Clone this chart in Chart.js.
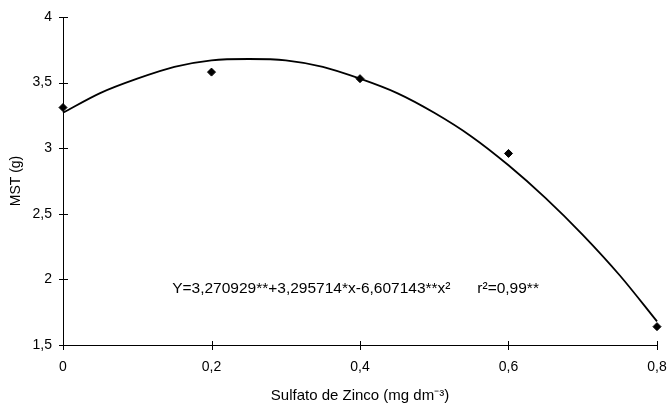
<!DOCTYPE html>
<html>
<head>
<meta charset="utf-8">
<script src="https://cdn.jsdelivr.net/npm/chart.js@4.4.0/dist/chart.umd.min.js"></script>
<style>
html,body{margin:0;padding:0;background:#fff;}
#wrap{width:668px;height:406px;}
</style>
</head>
<body>
<div id="wrap"><canvas id="c" width="668" height="406"></canvas></div>
<script>
// Observed data points
const doses = [0, 0.2, 0.4, 0.6, 0.8];
const mst = [3.31, 3.58, 3.53, 2.96, 1.64];
// Fitted trend curve
const curveX = [0, 0.05, 0.1, 0.15, 0.2, 0.25, 0.3, 0.35, 0.4, 0.45, 0.5, 0.55, 0.6, 0.65, 0.7, 0.75, 0.8];
const curveY = [3.27, 3.42, 3.53, 3.62, 3.67, 3.68, 3.67, 3.62, 3.53, 3.42, 3.27, 3.09, 2.87, 2.62, 2.34, 2.03, 1.68];
const xTicks = [0, 0.2, 0.4, 0.6, 0.8];
const yTicks = [1.5, 2, 2.5, 3, 3.5, 4];
const equationText = "Y=3,270929**+3,295714*x-6,607143**x²";
const r2Text = "r²=0,99**";

const FONT = "'Liberation Sans', Arial, sans-serif";
const fmt = v => String(Math.round(v * 10) / 10).replace('.', ',');

const crossTicks = {
  id: 'crossTicks',
  afterDraw(chart) {
    const ctx = chart.ctx;
    const xs = chart.scales.x, ys = chart.scales.y;
    ctx.save();
    ctx.strokeStyle = '#000';
    ctx.lineWidth = 1;
    ctx.beginPath();
    yTicks.forEach(v => {
      const py = Math.round(ys.getPixelForValue(v)) + 0.5;
      ctx.moveTo(xs.left - 4, py); ctx.lineTo(xs.left + 5, py);
    });
    xTicks.forEach(v => {
      const px = Math.round(xs.getPixelForValue(v)) + 0.5;
      ctx.moveTo(px, ys.bottom - 4); ctx.lineTo(px, ys.bottom + 5);
    });
    ctx.stroke();
    ctx.fillStyle = '#000';
    ctx.font = '15.5px ' + FONT;
    ctx.textBaseline = 'middle';
    ctx.textAlign = 'left';
    ctx.fillText(equationText, xs.getPixelForValue(0.147), ys.getPixelForValue(1.93));
    ctx.fillText(r2Text, xs.getPixelForValue(0.558), ys.getPixelForValue(1.93));
    ctx.restore();
  }
};

new Chart(document.getElementById('c'), {
  type: 'scatter',
  data: {
    datasets: [
      {
        label: 'Curve',
        type: 'line',
        data: curveX.map((x, i) => ({x: x, y: curveY[i]})),
        borderColor: '#000',
        borderWidth: 1.8,
        pointRadius: 0,
        fill: false,
        clip: false,
        tension: 0.4,
        cubicInterpolationMode: 'monotone'
      },
      {
        label: 'MST',
        data: doses.map((x, i) => ({x: x, y: mst[i]})),
        backgroundColor: '#000',
        borderColor: '#000',
        pointStyle: 'rectRot',
        pointRadius: 4,
        pointHoverRadius: 4,
        clip: false
      }
    ]
  },
  options: {
    responsive: false,
    animation: false,
    layout: {padding: {top: 17, right: 11, left: 0, bottom: 0}},
    plugins: {legend: {display: false}, tooltip: {enabled: false}},
    scales: {
      x: {
        type: 'linear', min: 0, max: 0.8,
        afterBuildTicks: s => { s.ticks = xTicks.map(v => ({value: v})); },
        afterFit: s => { s.height = 61; s.paddingRight = 0; s.paddingLeft = 0; },
        grid: {display: false, drawTicks: false},
        border: {display: true, color: '#000', width: 1},
        ticks: {color: '#000', font: {family: FONT, size: 14}, padding: 14, callback: v => fmt(v), maxRotation: 0},
        title: {display: true, text: 'Sulfato de Zinco (mg dm⁻³)', color: '#000', font: {family: FONT, size: 15}, padding: {top: 4, bottom: 1}}
      },
      y: {
        type: 'linear', min: 1.5, max: 4,
        afterBuildTicks: s => { s.ticks = yTicks.map(v => ({value: v})); },
        afterFit: s => { s.width = 63; s.paddingTop = 0; s.paddingBottom = 0; },
        grid: {display: false, drawTicks: false},
        border: {display: true, color: '#000', width: 1},
        ticks: {color: '#000', font: {family: FONT, size: 14}, padding: 11, callback: v => fmt(v)},
        title: {display: true, text: 'MST (g)', color: '#000', font: {family: FONT, size: 14}, padding: {top: 8, bottom: 0}}
      }
    }
  },
  plugins: [crossTicks]
});
</script>
</body>
</html>
